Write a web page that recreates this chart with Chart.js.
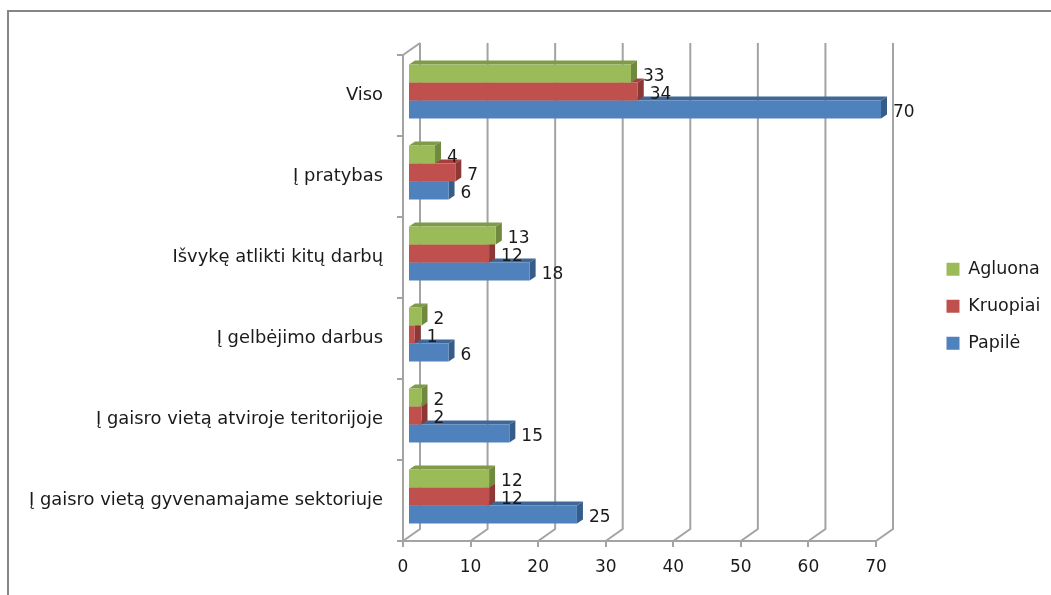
<!DOCTYPE html>
<html>
<head>
<meta charset="utf-8">
<style>
  html, body { margin: 0; padding: 0; background: #fff; }
  #wrap { position: relative; width: 1051px; height: 595px; overflow: hidden; }
  #frame { position: absolute; left: 7px; top: 10px; width: 1060px; height: 600px;
           border-left: 2px solid #868686; border-top: 2px solid #868686; }
  #chart { position: absolute; left: 0; top: 0; }
</style>
</head>
<body>
<div id="wrap">
  <div id="frame"></div>
  <canvas id="chart" width="1051" height="595"></canvas>
</div>
<script src="https://cdn.jsdelivr.net/npm/chart.js@4"></script>
<script>
const categories = [
  "Viso",
  "Į pratybas",
  "Išvykę atlikti kitų darbų",
  "Į gelbėjimo darbus",
  "Į gaisro vietą atviroje teritorijoje",
  "Į gaisro vietą gyvenamajame sektoriuje",
];
const agluona = [33, 4, 13, 2, 2, 12];
const kruopiai = [34, 7, 12, 1, 2, 12];
const papile = [70, 6, 18, 6, 15, 25];
const xTicks = [0, 10, 20, 30, 40, 50, 60, 70];

const FONT = "'DejaVu Sans', sans-serif";
const TEXT = "#1a1a1a";
const WALL = "#a3a3a3";

// front colour, top face, side face
const greens = ["#9BBB59", "#7F9A48", "#6F8A3E"];
const reds = ["#C0504D", "#A5403D", "#8C3836"];
const blues = ["#4F81BD", "#3F6797", "#365C8A"];

function face(ctx, color, points) {
  ctx.fillStyle = color;
  ctx.beginPath();
  points.forEach((p, i) => (i ? ctx.lineTo(p[0], p[1]) : ctx.moveTo(p[0], p[1])));
  ctx.closePath();
  ctx.fill();
}

// fake the excel 3d look: back wall + floor behind the bars
const wallsPlugin = {
  id: "walls",
  beforeDatasetsDraw(chart) {
    const { ctx, scales, chartArea } = chart;
    const dx = 17, dy = -12;
    ctx.save();
    ctx.strokeStyle = WALL;
    ctx.lineWidth = 2;
    xTicks.forEach((v) => {
      const x = scales.x.getPixelForValue(v);
      ctx.beginPath();
      ctx.moveTo(x, chartArea.bottom);
      ctx.lineTo(x + dx, chartArea.bottom + dy);
      ctx.lineTo(x + dx, chartArea.top + dy);
      ctx.stroke();
    });
    ctx.beginPath();
    ctx.moveTo(chartArea.left, chartArea.top);
    ctx.lineTo(chartArea.left + dx, chartArea.top + dy);
    ctx.stroke();
    ctx.restore();
  },
};

const barsPlugin = {
  id: "bars3d",
  beforeDatasetDraw(chart, args) {
    const { ctx } = chart;
    const faces = chart.data.datasets[args.index].faces;
    const dx = 6, dy = -4;
    ctx.save();
    ctx.translate(5, -4);
    args.meta.data.forEach((bar) => {
      const h = bar.height / 2;
      face(ctx, faces[1], [[bar.base, bar.y - h], [bar.base + dx, bar.y - h + dy], [bar.x + dx, bar.y - h + dy], [bar.x, bar.y - h]]);
      face(ctx, faces[2], [[bar.x, bar.y - h], [bar.x + dx, bar.y - h + dy], [bar.x + dx, bar.y + h + dy], [bar.x, bar.y + h]]);
    });
  },
  afterDatasetDraw(chart) {
    chart.ctx.restore();
  },
  afterDatasetsDraw(chart) {
    const { ctx } = chart;
    ctx.save();
    ctx.font = "17px " + FONT;
    ctx.fillStyle = TEXT;
    ctx.textBaseline = "middle";
    chart.data.datasets.forEach((ds, i) => {
      chart.getDatasetMeta(i).data.forEach((bar, j) => {
        ctx.fillText(ds.data[j], bar.x + 17, bar.y - 1);
      });
    });
    ctx.restore();
  },
  // legend sits in the chart area box, move it out to the right side
  afterLayout(chart) {
    const legend = chart.legend;
    legend.left = 927;
    legend.right = 1051;
    legend.top = 241;
    legend.bottom = 372;
  },
};

new Chart(document.getElementById("chart").getContext("2d"), {
  type: "bar",
  data: {
    labels: categories,
    datasets: [
      { label: "Agluona", data: agluona, backgroundColor: greens[0], faces: greens },
      { label: "Kruopiai", data: kruopiai, backgroundColor: reds[0], faces: reds },
      { label: "Papilė", data: papile, backgroundColor: blues[0], faces: blues },
    ],
  },
  options: {
    indexAxis: "y",
    responsive: false,
    animation: false,
    layout: { padding: { top: 55, right: 175, left: 0, bottom: 0 } },
    datasets: { bar: { barPercentage: 1, categoryPercentage: 54 / 81, clip: false } },
    plugins: {
      legend: {
        position: "chartArea",
        align: "start",
        labels: {
          boxWidth: 13,
          boxHeight: 13,
          padding: 19.5,
          color: TEXT,
          font: { family: FONT, size: 17.5 },
        },
      },
      tooltip: { enabled: false },
    },
    scales: {
      x: {
        min: 0,
        max: 70,
        afterFit: (s) => { s.height = 54; },
        afterBuildTicks: (s) => { s.ticks = xTicks.map((v) => ({ value: v })); },
        grid: { drawOnChartArea: false, color: WALL, lineWidth: 2, tickLength: 6 },
        border: { color: WALL, width: 2 },
        ticks: { color: TEXT, font: { family: FONT, size: 17 }, maxRotation: 0, padding: 10 },
      },
      y: {
        afterFit: (s) => { s.width = 403; },
        grid: { offset: true, drawOnChartArea: false, color: WALL, lineWidth: 2, tickLength: 6 },
        border: { color: WALL, width: 2 },
        ticks: { color: TEXT, font: { family: FONT, size: 17.9 }, padding: 14, autoSkip: false },
      },
    },
  },
  plugins: [wallsPlugin, barsPlugin],
});
</script>
</body>
</html>
